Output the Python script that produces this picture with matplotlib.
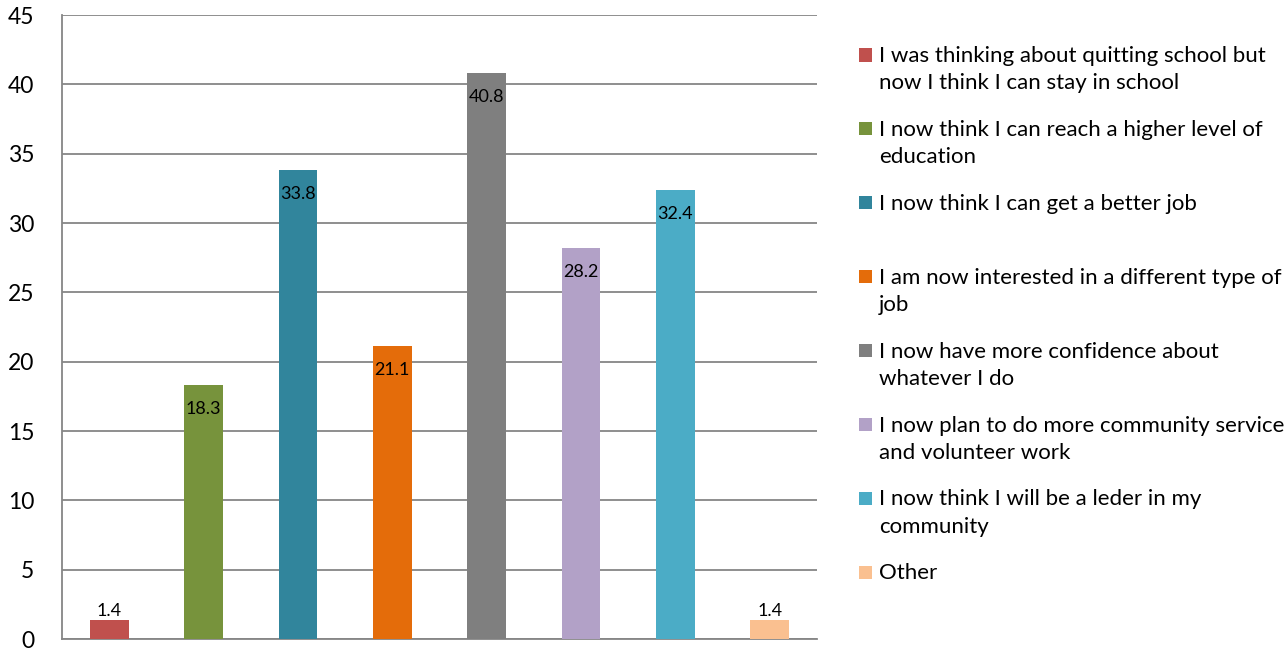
import matplotlib
matplotlib.use("Agg")
import matplotlib.pyplot as plt
from matplotlib.patches import Rectangle

categories = [
    "I was thinking about quitting school but\nnow I think I can stay in school",
    "I now think I can reach a higher level of\neducation",
    "I now think I can get a better job",
    "I am now interested in a different type of\njob",
    "I now have more confidence about\nwhatever I do",
    "I now plan to do more community service\nand volunteer work",
    "I now think I will be a leder in my\ncommunity",
    "Other",
]
values = [1.4, 18.3, 33.8, 21.1, 40.8, 28.2, 32.4, 1.4]
colors = ["#C0504D", "#77933C", "#31859C", "#E46C0A", "#7F7F7F", "#B2A1C7", "#4BACC6", "#FAC090"]
yticks = [0, 5, 10, 15, 20, 25, 30, 35, 40, 45]

plt.rcParams['font.family'] = ['Lato', 'DejaVu Sans']

W, H = 1286, 650
fig = plt.figure(figsize=(W / 100, H / 100), dpi=100)
ax = fig.add_axes([62 / W, 1 - 639 / H, (817 - 62) / W, (639 - 15) / H])

x = list(range(len(values)))
bars = ax.bar(x, values, width=0.41, color=colors, zorder=3)
ax.set_xlim(-0.5, len(values) - 0.5)
ax.set_ylim(0, 45)
ax.set_yticks(yticks)
ax.set_yticklabels([str(t) for t in yticks], fontsize=16.5)
ax.tick_params(axis='y', length=0, pad=20)
ax.set_xticks([])
ax.grid(axis='y', color='#868686', linewidth=1.3, zorder=0)
for s in ['top', 'right']:
    ax.spines[s].set_visible(False)
for s in ['left', 'bottom']:
    ax.spines[s].set_color('#868686')
    ax.spines[s].set_linewidth(1.3)

for b, v in zip(bars, values):
    cx = b.get_x() + b.get_width() / 2
    if v < 5:
        ax.annotate(f"{v}", (cx, v), xytext=(0, 1), textcoords='offset pixels',
                    ha='center', va='bottom', fontsize=13, color='black', zorder=4)
    else:
        ax.annotate(f"{v}", (cx, v), xytext=(0, -16), textcoords='offset pixels',
                    ha='center', va='top', fontsize=13, color='black', zorder=4)

# legend
y0 = 55
step = 73.9
for i, (lab, c) in enumerate(zip(categories, colors)):
    yc = y0 + i * step
    fig.patches.append(Rectangle((859 / W, 1 - (yc + 6.5) / H), 13 / W, 13 / H,
                                 transform=fig.transFigure, facecolor=c, edgecolor='none'))
    fig.text(879 / W, 1 - (yc - 9) / H, lab, fontsize=16, va='top', ha='left',
             linespacing=1.45, color='black')

fig.savefig("out.png", dpi=100)
